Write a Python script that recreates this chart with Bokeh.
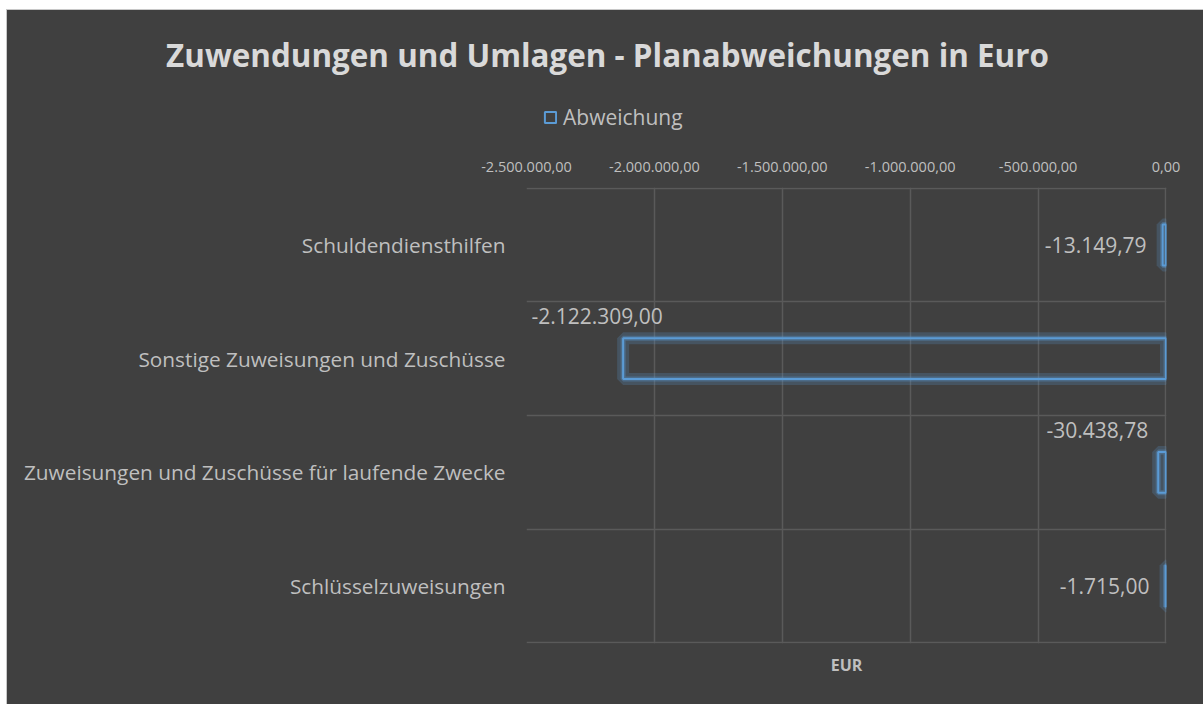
from bokeh.plotting import figure
from bokeh.layouts import column
from bokeh.models import (Range1d, FixedTicker, Grid, Legend, LegendItem,
                          LinearAxis, ColumnDataSource)
from bokeh.core.properties import value
from bokeh.embed import file_html
from bokeh.resources import INLINE

# ---- data ----
categories = ["Schuldendiensthilfen",
              "Sonstige Zuweisungen und Zuschüsse",
              "Zuweisungen und Zuschüsse für laufende Zwecke",
              "Schlüsselzuweisungen"]
abweichung = [-13149.79, -2122309.00, -30438.78, -1715.00]
x_ticks = [-2500000, -2000000, -1500000, -1000000, -500000, 0]
x_tick_labels = ["-2.500.000,00", "-2.000.000,00", "-1.500.000,00",
                 "-1.000.000,00", "-500.000,00", "0,00"]
series_name = "Abweichung"
title_text = "Zuwendungen und Umlagen - Planabweichungen in Euro"
axis_title = "EUR"

# ---- styling ----
BG = "#404040"
GRID = "#5A5A5A"
TXT = "#BFBFBF"
TITLE_C = "#D9D9D9"
BLUE = "#5B9BD5"
FONT = "Open Sans"
W = 1196
HEAD_H = 140
MAIN_H = 554
EDGE_PAD_Y = 0.005      # keeps frame-edge gridlines inside the clip area
EDGE_PAD_X = 2000
label_x_off = [-16, -26, -10, -16]
label_y_off = [0, -43, -42, 0]
label_align = ["right", "center", "right", "right"]


def de_fmt(v):
    s = f"{abs(v):,.2f}".replace(",", "X").replace(".", ",").replace("X", ".")
    return ("-" if v < 0 else "") + s


idx = list(range(len(categories)))
src = ColumnDataSource(dict(
    y=idx, right=abweichung, left=[0] * len(idx),
    txt=[de_fmt(v) for v in abweichung],
    xo=label_x_off, yo=label_y_off, al=label_align))

# ---------- header: title + legend ----------
h = figure(width=W, height=HEAD_H, output_backend="svg", toolbar_location=None,
           x_range=Range1d(0, W), y_range=Range1d(HEAD_H, 0),
           min_border=0)
h.axis.visible = False
h.grid.visible = False
h.background_fill_color = BG
h.border_fill_color = BG
h.outline_line_color = None
h.text(x=[W / 2 + 2], y=[44], text=[title_text], text_align="center",
       text_baseline="middle", text_font=value(FONT), text_font_size="31.4px",
       text_font_style="bold", text_color=TITLE_C)
nan = float("nan")
key = h.hbar(y=[nan], left=[nan], right=[nan], height=1, fill_color=None,
             line_color=BLUE, line_width=2)
leg = Legend(items=[LegendItem(label=series_name, renderers=[key])],
             location=(536, 19), orientation="horizontal",
             background_fill_alpha=0, border_line_color=None,
             padding=0, margin=0, glyph_width=14, glyph_height=14,
             label_standoff=6, label_text_font=FONT, label_text_font_size="21px",
             label_text_color=TXT, label_height=20)
h.add_layout(leg)

# ---------- main chart ----------
n = len(categories)
p = figure(width=W, height=MAIN_H, output_backend="svg", toolbar_location=None,
           x_range=Range1d(x_ticks[0], x_ticks[-1] + EDGE_PAD_X),
           y_range=Range1d(n - 0.5 + EDGE_PAD_Y, -0.5 - EDGE_PAD_Y),
           x_axis_location="above",
           min_border_left=519, min_border_right=37,
           min_border_top=37, min_border_bottom=61)
p.background_fill_color = BG
p.border_fill_color = BG
p.outline_line_color = None

for fig in (h, p):
    if "frame_align" in fig.properties():
        fig.frame_align = False

xa = p.xaxis[0]
xa.ticker = FixedTicker(ticks=x_ticks)
xa.major_label_overrides = {t: l for t, l in zip(x_ticks, x_tick_labels)}
xa.major_label_text_font = FONT
xa.major_label_text_font_size = "14.5px"
xa.major_label_text_color = TXT
xa.axis_line_color = None
xa.major_tick_line_color = None
xa.minor_tick_line_color = None
xa.major_label_standoff = 10

ya = p.yaxis[0]
ya.ticker = FixedTicker(ticks=idx)
ya.major_label_overrides = {i: c for i, c in zip(idx, categories)}
ya.major_label_text_font = FONT
ya.major_label_text_font_size = "20.8px"
ya.major_label_text_color = TXT
ya.axis_line_color = None
ya.major_tick_line_color = None
ya.minor_tick_line_color = None
ya.major_label_standoff = 15

xb = LinearAxis(ticker=FixedTicker(ticks=[]), axis_label=axis_title,
                axis_label_text_font=FONT, axis_label_text_font_size="16px",
                axis_label_text_font_style="bold", axis_label_text_color=TXT,
                axis_label_standoff=10, axis_line_color=None,
                major_tick_line_color=None, minor_tick_line_color=None,
                major_label_text_font_size="0px")
p.add_layout(xb, "below")

p.xgrid.ticker = FixedTicker(ticks=x_ticks[1:])
p.xgrid.grid_line_color = GRID
p.xgrid.grid_line_width = 1.5
p.ygrid.visible = False
boundaries = [i - 0.5 for i in idx] + [n - 0.5]
hg = Grid(dimension=1, ticker=FixedTicker(ticks=boundaries),
          grid_line_color=GRID, grid_line_width=1.5)
p.add_layout(hg)

p.hbar(y="y", left="left", right="right", height=0.36, source=src,
       fill_color=None, line_color=BLUE, line_alpha=0.22, line_width=12)
p.hbar(y="y", left="left", right="right", height=0.36, source=src,
       fill_color=None, line_color=BLUE, line_alpha=0.35, line_width=5)
p.hbar(y="y", left="left", right="right", height=0.36, source=src,
       fill_color=None, line_color=BLUE, line_width=2)

p.text(x="right", y="y", text="txt", source=src, x_offset="xo", y_offset="yo",
       text_align="al", text_baseline="middle", text_color=TXT,
       text_font=value(FONT), text_font_size="21px")

layout = column(h, p, spacing=0)
layout.styles = {"margin-left": "6px", "margin-top": "9px",
                 "border-left": "1px solid #C8C8C8", "border-top": "1px solid #C8C8C8",
                 "gap": "0px", "background-color": BG}

open("out.html", "w").write(file_html(layout, INLINE))
